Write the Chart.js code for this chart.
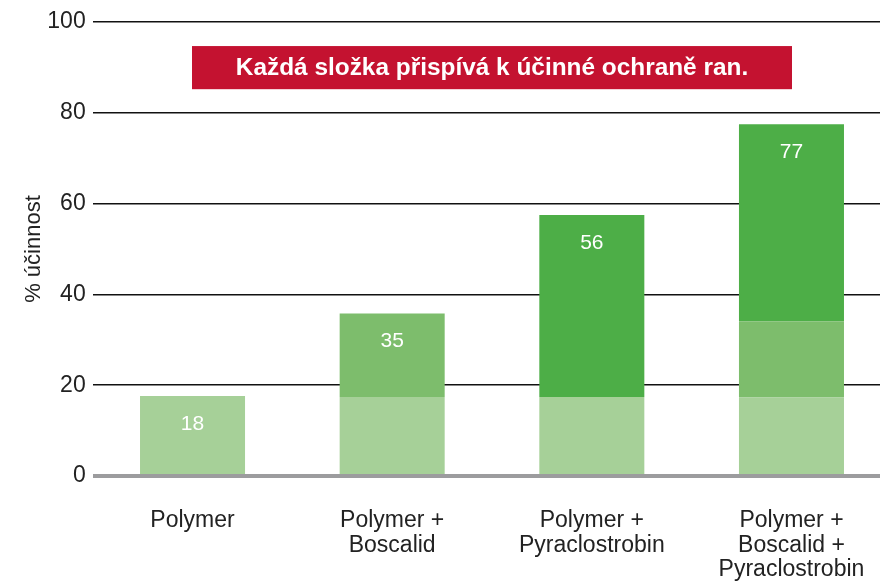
<!DOCTYPE html>
<html>
<head>
<meta charset="utf-8">
<script src="https://cdn.jsdelivr.net/npm/chart.js@4.4.1/dist/chart.umd.min.js"></script>
<style>
  html, body { margin: 0; padding: 0; background: #fff; overflow: hidden; }
  #wrap { width: 892px; height: 581px; }
</style>
</head>
<body>
<div id="wrap"><canvas id="effChart" width="892" height="581"></canvas></div>
<script>
// data
const categories = [
  ["Polymer"],
  ["Polymer +", "Boscalid"],
  ["Polymer +", "Pyraclostrobin"],
  ["Polymer +", "Boscalid +", "Pyraclostrobin"],
];
const polymerPart = [17.6, 17.4, 17.4, 17.3];
const boscalidPart = [0, 18.4, 0, 16.8];
const pyraclostrobinPart = [0, 0, 40.1, 43.4];
const totalLabels = [18, 35, 56, 77];
const yTicks = [0, 20, 40, 60, 80, 100];
const headline = "Každá složka přispívá k účinné ochraně ran.";

const FONT = "'Liberation Sans', Arial, Helvetica, sans-serif";

// red banner + white numbers on bars
const overlayPlugin = {
  id: "overlay",
  afterDatasetsDraw(chart) {
    const c = chart.ctx;
    const y = chart.scales.y;
    const area = chart.chartArea;
    // numbers
    c.save();
    c.fillStyle = "#ffffff";
    c.font = "21px " + FONT;
    c.textAlign = "center";
    c.textBaseline = "middle";
    totalLabels.forEach((v, i) => {
      const top = polymerPart[i] + boscalidPart[i] + pyraclostrobinPart[i];
      const bar = chart.getDatasetMeta(0).data[i];
      c.fillText(String(v), bar.x, y.getPixelForValue(top) + 28);
    });
    // banner
    const cx = (area.left + area.right) / 2;
    const top = y.getPixelForValue(94.7);
    const bottom = y.getPixelForValue(85.2);
    c.fillStyle = "#c41230";
    c.fillRect(cx - 300, top, 600, bottom - top);
    c.fillStyle = "#ffffff";
    c.font = "bold 24.4px " + FONT;
    c.fillText(headline, cx, (top + bottom) / 2 + 1);
    c.restore();
  },
};

const ctx = document.getElementById("effChart").getContext("2d");
const effChart = new Chart(ctx, {
  type: "bar",
  data: {
    labels: categories,
    datasets: [
      { label: "Polymer", data: polymerPart, backgroundColor: "#a6d098" },
      { label: "Boscalid", data: boscalidPart, backgroundColor: "#7dbd6c" },
      { label: "Pyraclostrobin", data: pyraclostrobinPart, backgroundColor: "#4dae47" },
    ],
  },
  options: {
    responsive: false,
    animation: false,
    layout: { padding: { top: 22, right: 0.7, bottom: 0, left: 0 } },
    datasets: {
      bar: { categoryPercentage: 1, barPercentage: 0.526, borderWidth: 0 },
    },
    plugins: {
      legend: { display: false },
      tooltip: { enabled: false },
    },
    scales: {
      x: {
        stacked: true,
        grid: { display: false, drawTicks: false },
        border: { display: false },
        ticks: {
          color: "#222",
          padding: 33,
          maxRotation: 0,
          autoSkip: false,
          font: { family: FONT, size: 23, lineHeight: 1.05 },
        },
        afterFit(scale) {
          scale.height = 105;
          scale.paddingLeft = 0;
          scale.paddingRight = 0;
        },
      },
      y: {
        stacked: true,
        min: 0,
        max: 100,
        afterBuildTicks(scale) { scale.ticks = yTicks.map((v) => ({ value: v })); },
        grid: {
          drawTicks: false,
          color: (c) => (c.tick && c.tick.value === 0 ? "#9c9c9e" : "#111111"),
          lineWidth: (c) => (c.tick && c.tick.value === 0 ? 4 : 1.5),
        },
        border: { display: false },
        ticks: {
          color: "#222",
          padding: 7,
          font: { family: FONT, size: 23 },
        },
        title: {
          display: true,
          text: "% účinnost",
          color: "#222",
          padding: { top: 21, bottom: 0 },
          font: { family: FONT, size: 22 },
        },
        afterFit(scale) { scale.width = 92.7; },
      },
    },
  },
  plugins: [overlayPlugin],
});
</script>
</body>
</html>
